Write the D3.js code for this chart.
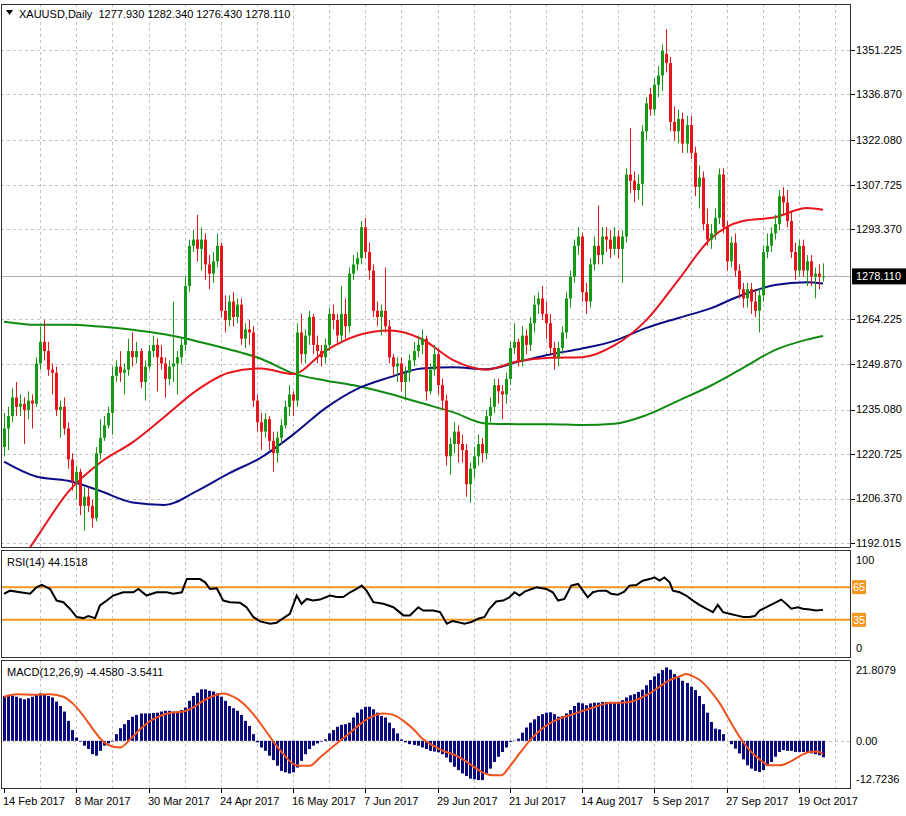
<!DOCTYPE html>
<html>
<head>
<meta charset="utf-8">
<script src="https://cdn.jsdelivr.net/npm/d3@7"></script>
<style>
  body { margin: 0; background: #ffffff; }
  svg { display: block; }
  text { font-family: "Liberation Sans", Arial, sans-serif; font-size: 11px; fill: #000; }
</style>
</head>
<body>
<svg id="chart" width="906" height="816"></svg>
<script>
// ---- data ----
var openP = [
1223,1229,1233,1239,1236,1237,1235,1238,1237,1250, 1257,1254,1248,1247,1235,1236,1229,1219,1212,1215,
1204,1207,1204,1200,1221,1226,1230,1234,1246,1249, 1247,1248,1254,1252,1254,1244,1249,1254,1256,1252,
1250,1245,1249,1250,1252,1256,1275,1288,1290,1287, 1290,1282,1279,1283,1288,1267,1264,1270,1265,1269,
1258,1261,1260,1238,1231,1228,1232,1225,1221,1226, 1230,1236,1240,1238,1260,1253,1259,1265,1256,1254,
1252,1256,1266,1264,1259,1266,1262,1279,1282,1284, 1294,1286,1280,1267,1265,1267,1262,1252,1249,1250,
1244,1247,1251,1254,1256,1258,1241,1248,1253,1243, 1238,1220,1224,1228,1224,1222,1211,1216,1220,1224,
1221,1233,1236,1243,1241,1240,1245,1255,1257,1251, 1259,1256,1263,1269,1271,1266,1263,1255,1252,1255,
1260,1271,1278,1288,1291,1273,1270,1282,1288,1285, 1291,1290,1287,1291,1287,1291,1311,1309,1306,1308,
1325,1337,1332,1340,1343,1350,1347,1328,1325,1329, 1321,1327,1318,1307,1310,1295,1290,1292,1297,1311,
1294,1283,1289,1280,1274,1271,1274,1270,1267,1272, 1286,1288,1292,1295,1304,1302,1296,1286,1280,1288,
1280,1283,1278,1279,1277.93];
var highP = [
1234,1236,1242,1244,1240,1239,1241,1240,1252,1262, 1264,1257,1250,1249,1238,1239,1231,1221,1217,1216,
1210,1210,1206,1223,1232,1233,1236,1249,1251,1254, 1250,1258,1260,1257,1255,1251,1256,1259,1258,1256,
1252,1251,1270,1254,1258,1278,1290,1293,1298,1294, 1292,1285,1286,1292,1289,1272,1272,1273,1271,1271,
1263,1264,1262,1240,1234,1234,1233,1228,1228,1232, 1238,1243,1241,1263,1266,1261,1267,1266,1259,1256,
1258,1268,1269,1266,1275,1271,1281,1285,1286,1296, 1297,1289,1282,1270,1269,1281,1264,1253,1252,1252,
1249,1253,1257,1259,1261,1259,1250,1256,1255,1245, 1240,1226,1231,1230,1227,1224,1218,1223,1227,1226,
1235,1239,1245,1245,1243,1247,1257,1263,1258,1262, 1261,1265,1272,1273,1275,1270,1266,1257,1257,1262,
1273,1280,1290,1294,1292,1276,1284,1291,1301,1294, 1294,1293,1294,1293,1293,1313,1326,1312,1311,1327,
1336,1339,1342,1346,1353,1358,1349,1333,1332,1331, 1330,1330,1320,1314,1312,1300,1295,1300,1313,1313,
1296,1291,1292,1282,1276,1276,1276,1274,1274,1288, 1292,1294,1298,1306,1307,1306,1299,1289,1290,1290,
1285,1285,1281,1282,1282.34];
var lowP = [
1220,1222,1231,1233,1233,1224,1232,1229,1236,1248, 1251,1246,1240,1233,1226,1227,1216,1209,1206,1201,
1196,1202,1197,1199,1219,1225,1229,1227,1244,1244, 1240,1246,1249,1250,1242,1238,1248,1252,1241,1248,
1239,1243,1244,1240,1250,1254,1273,1286,1283,1280, 1277,1274,1276,1281,1265,1260,1262,1262,1263,1256,
1255,1256,1236,1228,1222,1226,1222,1215,1218,1224, 1229,1233,1233,1236,1250,1250,1256,1253,1250,1249,
1250,1254,1261,1256,1257,1258,1260,1277,1280,1282, 1284,1277,1265,1262,1259,1260,1250,1246,1244,1241,
1238,1244,1249,1252,1253,1238,1240,1246,1240,1235, 1217,1214,1221,1218,1218,1207,1205,1213,1217,1218,
1219,1231,1234,1237,1232,1237,1243,1253,1249,1249, 1253,1254,1260,1266,1264,1258,1253,1248,1249,1253,
1258,1268,1276,1285,1270,1266,1268,1280,1282,1282, 1286,1284,1285,1284,1276,1289,1305,1302,1303,1301,
1322,1330,1330,1336,1338,1344,1325,1322,1321,1318, 1318,1316,1304,1300,1293,1288,1287,1290,1295,1292,
1280,1281,1278,1271,1268,1268,1266,1265,1260,1270, 1284,1286,1290,1293,1298,1294,1284,1277,1278,1278,
1275,1275,1271,1274,1276.43];
var closeP = [
1229,1233,1239,1236,1237,1235,1238,1237,1250,1257, 1254,1248,1247,1235,1236,1229,1219,1212,1215,1204,
1207,1204,1200,1221,1226,1230,1234,1246,1249,1247, 1248,1254,1252,1254,1244,1249,1254,1256,1252,1250,
1245,1249,1250,1252,1256,1275,1288,1290,1287,1290, 1282,1279,1283,1288,1267,1264,1270,1265,1269,1258,
1261,1260,1238,1231,1228,1232,1225,1221,1226,1230, 1236,1240,1238,1260,1253,1259,1265,1256,1254,1252,
1256,1266,1264,1259,1266,1262,1279,1282,1284,1294, 1286,1280,1267,1265,1267,1262,1252,1249,1250,1244,
1247,1251,1254,1256,1258,1241,1248,1253,1243,1238, 1220,1224,1228,1224,1222,1211,1216,1220,1224,1221,
1233,1236,1243,1241,1240,1245,1255,1257,1251,1259, 1256,1263,1269,1271,1266,1263,1255,1252,1255,1260,
1271,1278,1288,1291,1273,1270,1282,1288,1285,1291, 1290,1287,1291,1287,1291,1311,1309,1306,1308,1325,
1334,1332,1340,1343,1351,1347,1328,1325,1329,1321, 1327,1318,1307,1310,1295,1290,1292,1297,1311,1294,
1283,1289,1280,1274,1271,1274,1270,1267,1272,1286, 1288,1292,1295,1304,1302,1296,1286,1280,1288,1280,
1283,1278,1279,1278,1278.11];

// moving averages sampled at these bar numbers
var maIdx  = [0,8,16,24,32,40,48,56,64,72,80,88,96,104,112,120,128,136,144,152,160,168,176,184,192,200,204];
var maRed  = [1178,1193.5,1208.5,1218,1224.5,1232.8,1241.3,1247,1248.4,1246.6,1254,1259,1260.6,1257.9,1251,1248,1250.7,1251.8,1252,1255.8,1264,1277,1290.3,1296,1297.2,1300.2,1299.6];
var maBlue = [1218.3,1213.5,1212.1,1208.8,1205.1,1204.3,1208.8,1214.5,1219.6,1227,1235.5,1241.8,1245.5,1248.4,1248.8,1248.1,1250.5,1252.9,1254.8,1257.3,1261.5,1264.7,1267.8,1272.2,1275.3,1276.2,1275.8];
var maGreen= [1263.5,1262.5,1262.5,1261.9,1260.9,1259.4,1257.2,1254.6,1251.5,1246.8,1244.5,1242.7,1240.2,1237.2,1234.2,1230.6,1230.4,1230.4,1230.1,1230.5,1233.3,1238,1242.8,1248.5,1254.3,1257.7,1258.9];

var rsiIdx = [0,1.5,4,6.5,8.1,9.4,11.5,13.1,14.8,16.4,18.1,19.8,21,22.7,23.9,25.6,27.2,29.7,32.2,33.5,35.5,38,40.5,42.2,44.3,45.5,47.2,48.8,50.1,51.3,53,54.6,56.3,58.8,60.4,62.1,63.8,66.3,67.9,69.6,71.2,72.9,74.1,75.4,77,78.7,81.2,82.9,84.5,86.2,87.8,89.1,90.3,92,94.5,97,99.5,101.1,103.2,104.4,106.9,108.6,110.3,111.8,114.7,116.4,118.1,119.7,120.9,122.6,124.3,125.9,127.2,128.4,129.7,131.4,132.6,135.1,136.7,138,139.6,141.3,143,144.2,145.4,146.7,148.3,150,151.2,152.9,154.5,155.8,157.5,159.1,160.8,162,163.3,164.5,165.8,166.6,168.3,169.9,171.6,173.2,174.9,176.6,177.8,179.1,180.7,182.4,184.1,185.7,187,188.2,189.9,191.5,193.6,194.8,196.1,197.7,199,200.7,202.3,204];
var rsiVal = [58.8,61.8,60.3,59,64.8,67,63.3,52.7,51.2,45.2,37.6,36.6,38.5,36.6,48.2,52.7,57.3,60.3,60.3,63.3,57.3,60.3,60.3,59,60.3,72.4,72.4,72.4,69.4,63.3,64,52.7,51.2,50.6,46.6,37.6,33.6,31.5,32.4,36.6,40.6,57.3,49.7,54.2,52.7,53.6,57.3,56,56,60.3,63.3,66.4,61.8,51.2,49.7,46.6,39.1,39.1,46.6,43.6,43.6,42.1,31.5,34,31.5,33,36,37.6,45.2,51.8,52.7,55.7,60.3,57.3,60.9,63.3,64.8,63.3,60.3,52.7,54.2,66.4,67.9,61.8,55.7,60.3,61.8,61.8,59,58,60.9,66.4,67,70.9,72.4,73.9,71,73.9,69.4,61.8,60.3,57.3,52.7,48.8,45.2,42.1,48.8,42.1,40.6,39.1,37.6,37.6,38.5,43.6,46.6,49.7,53.6,49.7,45.2,46.6,45.2,44.5,43.6,44.15];
var rsiLevels = [65, 35];

var macdHist = [
12.1,12.4,12.1,11.9,11.5,11.2,11.5,11.9,12.4,12.8, 12.4,12.1,11.7,10.6,9.4,7.9,5.4,2.9,0.9,-0.2,
-1.3,-2.2,-3.6,-4.0,-2.7,-1.3,-0.7,-0.2,1.8,3.4, 4.5,5.6,6.5,7.0,7.4,7.4,7.4,7.5,7.6,7.9,
8.1,8.1,7.9,7.9,8.3,9.0,10.8,12.1,13.0,13.9, 13.9,13.5,13.3,12.8,11.9,10.8,9.4,8.8,8.1,7.0,
5.4,4.0,1.8,-0.4,-1.8,-2.7,-4.0,-5.2,-6.7,-8.1, -8.5,-8.8,-8.5,-7.2,-5.4,-3.6,-2.2,-1.3,-0.7,-0.2,
0.4,2.0,2.9,3.8,4.3,4.5,4.9,6.3,7.6,8.5, 9.2,9.2,8.5,7.6,6.7,6.3,4.9,3.4,2.0,0.4,
-0.4,-0.9,-1.1,-1.3,-1.8,-2.2,-2.7,-2.9,-3.1,-3.6, -4.5,-5.8,-7.0,-7.9,-8.8,-9.5,-10.2,-10.4,-10.6,-10.6,
-8.8,-7.5,-5.7,-4.3,-3.0,-1.8,-0.3,0.1,0.6,2.2, 3.6,4.9,5.8,6.7,7.2,7.6,7.7,7.2,6.5,6.7,
7.4,8.3,9.4,10.3,10.1,9.6,10.1,10.3,10.3,10.5, 10.5,10.3,10.3,10.5,11.0,11.7,12.3,12.6,13.2,13.8,
15.0,16.4,17.4,18.2,19.1,19.8,19.2,18.0,17.1,16.2, 15.6,14.6,13.7,12.1,9.9,7.6,5.1,3.3,3.1,1.8,
0,-0.9,-2.1,-3.4,-5.0,-6.6,-7.5,-8.1,-8.4,-7.9, -6.8,-5.7,-4.3,-3.0,-2.5,-2.7,-2.7,-3.0,-3.0,-3.0,
-3.2,-3.4,-3.6,-3.9,-4.458];
var sigIdx = [0,3.2,7.3,11.5,14.8,17.3,19.8,22.2,24.7,27.2,28.9,31.4,33.9,36.4,38.9,41.3,44.7,47.2,49.6,52.1,54.6,57.1,59.6,62.1,64.6,67.1,69.6,72.1,73.7,76.2,78.7,81.2,83.7,86.2,88.7,91.2,94.5,97,99.5,102,104.4,106.9,109.4,111.8,114.3,116.8,119.3,121.8,123.9,125.9,128.4,130.9,133.4,135.9,138.4,140.9,143.4,145.9,148.4,150.9,153.4,155.8,158.3,160.8,163.3,165.8,168.3,170,171.6,173.3,175.8,178.3,180.7,183.2,185.7,188.2,190.6,193.2,195.7,198.2,200.7,202.3,204];
var sigVal = [11.9,12.6,12.4,12.6,11.9,9.9,6.7,3.1,-0.2,-1.6,-1.8,0.4,3.1,5.4,6.7,7.5,7.9,9.0,10.8,12.1,12.8,11.9,10.1,7.2,3.6,-0.2,-3.6,-6.3,-6.7,-6.7,-4.5,-2.2,0,2.2,4.5,6.3,7.4,7.0,5.4,3.1,0.4,-1.3,-2.7,-3.6,-5.0,-6.8,-8.6,-9.3,-9.3,-7.0,-3.4,0,2.7,4.7,6.0,6.9,7.8,8.7,9.6,10.3,10.3,10.5,11.4,12.8,14.6,16.4,17.4,18.0,17.4,16.4,13.7,10.1,5.6,1.1,-2.5,-5.0,-6.6,-6.6,-5.7,-4.1,-3.0,-2.9,-3.5];

var priceTicks = [1351.225,1336.870,1322.080,1307.725,1293.370,1264.225,1249.870,1235.080,1220.725,1206.370,1192.015];
var lastPrice = 1278.110;
var dateBars = [0,18,36,54,72,90,108,126,144,162,180,198];
var dateLabels = ["14 Feb 2017","8 Mar 2017","30 Mar 2017","24 Apr 2017","16 May 2017","7 Jun 2017",
                  "29 Jun 2017","21 Jul 2017","14 Aug 2017","5 Sep 2017","27 Sep 2017","19 Oct 2017"];

// ---- layout ----
var L = 1, R = 851;
var mainTop = 4, mainBot = 547;
var rsiTop = 550, rsiBot = 657;
var macdTop = 660, macdBot = 788;
var gridCol = "#c4c4c4", frameCol = "#333";
var upCol = "#169a16", dnCol = "#e8141c";

var svg = d3.select("#chart");
svg.append("rect").attr("width", 906).attr("height", 816).attr("fill", "#fff");

var n = closeP.length;
var x = d3.scaleLinear().domain([0, n - 1]).range([4, 823]);
var yP = d3.scaleLinear().domain([1192.015, 1351.225]).range([543, 50]);
var yR = d3.scaleLinear().domain([0, 100]).range([658, 549]);
var yM = d3.scaleLinear().domain([-12.7236, 21.8079]).range([788, 660]);

function clip(id, top, bot) {
  svg.append("clipPath").attr("id", id).append("rect")
    .attr("x", L).attr("y", top).attr("width", R - L).attr("height", bot - top);
}
clip("cMain", mainTop, mainBot);
clip("cRsi", rsiTop, rsiBot);
clip("cMacd", macdTop, macdBot);

// vertical grid lines, every 9 bars
var vBars = d3.range(9, n + 4, 9);
[[mainTop, mainBot], [rsiTop, rsiBot], [macdTop, macdBot]].forEach(function (p) {
  svg.append("g").selectAll("line").data(vBars).join("line")
    .attr("x1", d => Math.round(x(d)) + 0.5).attr("x2", d => Math.round(x(d)) + 0.5)
    .attr("y1", p[0]).attr("y2", p[1])
    .attr("stroke", gridCol).attr("stroke-dasharray", "3,3");
});

// ---- main panel ----
var gMain = svg.append("g").attr("clip-path", "url(#cMain)");
gMain.selectAll("line.h").data(priceTicks).join("line").attr("class", "h")
  .attr("x1", L).attr("x2", R)
  .attr("y1", d => Math.round(yP(d)) + 0.5).attr("y2", d => Math.round(yP(d)) + 0.5)
  .attr("stroke", gridCol).attr("stroke-dasharray", "3,3");
gMain.append("line").attr("x1", L).attr("x2", R)
  .attr("y1", Math.round(yP(lastPrice)) + 0.5).attr("y2", Math.round(yP(lastPrice)) + 0.5)
  .attr("stroke", "#b0b0b0");

var maLine = d3.line().x((d, i) => x(maIdx[i])).y(d => yP(d)).curve(d3.curveMonotoneX);
[[maGreen, "#118a11"], [maBlue, "#0c0c86"], [maRed, "#e8141c"]].forEach(function (m) {
  gMain.append("path").attr("d", maLine(m[0])).attr("fill", "none")
    .attr("stroke", m[1]).attr("stroke-width", 2);
});

var candles = gMain.append("g").selectAll("g").data(d3.range(n)).join("g")
  .attr("fill", i => closeP[i] >= openP[i] ? upCol : dnCol)
  .attr("stroke", i => closeP[i] >= openP[i] ? upCol : dnCol);
candles.append("line")
  .attr("x1", i => Math.round(x(i)) + 0.5).attr("x2", i => Math.round(x(i)) + 0.5)
  .attr("y1", i => yP(highP[i])).attr("y2", i => yP(lowP[i]));
candles.append("rect").attr("stroke", "none")
  .attr("x", i => Math.round(x(i)) - 1).attr("width", 3)
  .attr("y", i => yP(Math.max(openP[i], closeP[i])))
  .attr("height", i => Math.max(1, Math.abs(yP(openP[i]) - yP(closeP[i]))));

// ---- RSI panel ----
var gRsi = svg.append("g").attr("clip-path", "url(#cRsi)");
gRsi.selectAll("line").data(rsiLevels).join("line")
  .attr("x1", L).attr("x2", R).attr("y1", d => yR(d)).attr("y2", d => yR(d))
  .attr("stroke", "#f5961e").attr("stroke-width", 2);
gRsi.append("path")
  .attr("d", d3.line().x((d, i) => x(rsiIdx[i])).y(d => yR(d))(rsiVal))
  .attr("fill", "none").attr("stroke", "#000").attr("stroke-width", 2);

// ---- MACD panel ----
var gMacd = svg.append("g").attr("clip-path", "url(#cMacd)");
gMacd.append("line").attr("x1", L).attr("x2", R)
  .attr("y1", Math.round(yM(0)) + 0.5).attr("y2", Math.round(yM(0)) + 0.5)
  .attr("stroke", gridCol).attr("stroke-dasharray", "3,3");
gMacd.append("g").attr("fill", "#0b0b80").selectAll("rect").data(macdHist).join("rect")
  .attr("x", (d, i) => Math.round(x(i)) - 1).attr("width", 3)
  .attr("y", d => Math.min(yM(d), yM(0)))
  .attr("height", d => Math.abs(yM(d) - yM(0)));
gMacd.append("path")
  .attr("d", d3.line().x((d, i) => x(sigIdx[i])).y(d => yM(d)).curve(d3.curveMonotoneX)(sigVal))
  .attr("fill", "none").attr("stroke", "#f0521c").attr("stroke-width", 2);

// ---- frames ----
[[mainTop, mainBot], [rsiTop, rsiBot], [macdTop, macdBot]].forEach(function (p) {
  svg.append("rect").attr("x", L + 0.5).attr("y", p[0] + 0.5)
    .attr("width", R - L - 1).attr("height", p[1] - p[0])
    .attr("fill", "none").attr("stroke", frameCol);
});

// ---- right axis ----
var axR = svg.append("g");
axR.selectAll("line").data(priceTicks).join("line")
  .attr("x1", R).attr("x2", R + 4)
  .attr("y1", d => Math.round(yP(d)) + 0.5).attr("y2", d => Math.round(yP(d)) + 0.5)
  .attr("stroke", "#000");
axR.selectAll("text").data(priceTicks).join("text")
  .attr("x", 856).attr("y", d => yP(d)).attr("dy", "0.35em")
  .text(d => d3.format(".3f")(d));
axR.append("rect").attr("x", 852).attr("y", yP(lastPrice) - 8)
  .attr("width", 54).attr("height", 16).attr("fill", "#000");
axR.append("text").attr("x", 856).attr("y", yP(lastPrice)).attr("dy", "0.35em")
  .style("fill", "#fff").text(d3.format(".3f")(lastPrice));

svg.append("text").attr("x", 856).attr("y", rsiTop + 14).text("100");
svg.append("text").attr("x", 856).attr("y", rsiBot - 5).text("0");
rsiLevels.forEach(function (v) {
  svg.append("rect").attr("x", 852).attr("y", yR(v) - 7).attr("width", 14).attr("height", 14)
    .attr("fill", "#f5961e");
  svg.append("text").attr("x", 853).attr("y", yR(v)).attr("dy", "0.35em")
    .style("fill", "#fff").text(v);
});
svg.append("text").attr("x", 856).attr("y", macdTop + 14).text("21.8079");
svg.append("text").attr("x", 856).attr("y", yM(0)).attr("dy", "0.35em").text("0.00");
svg.append("text").attr("x", 856).attr("y", macdBot - 5).text("-12.7236");

// ---- bottom axis ----
var axB = svg.append("g");
axB.selectAll("line").data(dateBars).join("line")
  .attr("x1", d => Math.round(x(d)) + 0.5).attr("x2", d => Math.round(x(d)) + 0.5)
  .attr("y1", macdBot).attr("y2", macdBot + 5).attr("stroke", "#000");
axB.selectAll("text").data(dateBars).join("text")
  .attr("x", d => Math.round(x(d)) - 1).attr("y", 805)
  .text((d, i) => dateLabels[i]);

// ---- titles ----
svg.append("path").attr("d", "M6,10 L13,10 L9.5,15 Z").attr("fill", "#000");
svg.append("text").attr("x", 19).attr("y", 18)
  .text("XAUUSD,Daily  1277.930 1282.340 1276.430 1278.110").attr("xml:space", "preserve");
svg.append("text").attr("x", 7).attr("y", rsiTop + 16).text("RSI(14) 44.1518");
svg.append("text").attr("x", 7).attr("y", macdTop + 16).text("MACD(12,26,9) -4.4580 -3.5411");
</script>
</body>
</html>
